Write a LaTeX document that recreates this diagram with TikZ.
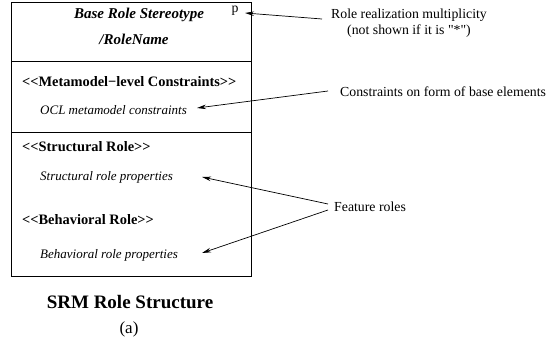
\documentclass[tikz,border=0pt]{standalone}
\usepackage{fontspec}
\setmainfont{Liberation Serif}[Ligatures=NoCommon]
\usetikzlibrary{arrows.meta}
\newcommand{\stereoopen}{{<}\kern0pt{<}}
\newcommand{\stereoclose}{{>}\kern0pt{>}}
\begin{document}
\begin{tikzpicture}[x=1pt,y=-1pt,
  frame/.style={draw,line width=0.8pt},
  title/.style={font=\fontsize{15}{17}\selectfont\bfseries\itshape,inner sep=0pt},
  hdr/.style={font=\fontsize{14.4}{17}\selectfont\bfseries,anchor=west,inner sep=0pt},
  prop/.style={font=\fontsize{13}{15}\selectfont\itshape,anchor=west,inner sep=0pt},
  note/.style={font=\fontsize{13.8}{16}\selectfont,inner sep=0pt},
  pointer/.style={line width=0.7pt,-{Stealth[length=9pt,width=4.5pt]}}]
\useasboundingbox (0,0) rectangle (556,339);
% role box and its compartments
\draw[frame] (11,2) rectangle (251,276);
\draw[frame] (11,61) -- (251,61);
\draw[frame] (11,132) -- (251,132);
% header compartment
\node[title] (stereo) at (139,15) {Base Role Stereotype};
\node[title] (rname) at (134,39) {/RoleName};
\node[font=\fontsize{13.8}{16}\selectfont,inner sep=0pt] (mult) at (235,11) {p};
% constraints compartment
\node[hdr] (mmc) at (22,82) {\stereoopen Metamodel\textminus level Constraints\stereoclose};
\node[prop] (ocl) at (40,110) {OCL metamodel constraints};
% feature compartments
\node[hdr] (sr) at (22,147) {\stereoopen Structural Role\stereoclose};
\node[prop] (srp) at (40,177) {Structural role properties};
\node[hdr] (br) at (22,220) {\stereoopen Behavioral Role\stereoclose};
\node[prop] (brp) at (40,255) {Behavioral role properties};
% caption
\node[font=\fontsize{19}{22}\selectfont\bfseries,inner sep=0pt] (cap) at (130,302) {SRM Role Structure};
\node[font=\fontsize{17}{20}\selectfont,inner sep=0pt] (sub) at (129,329) {(a)};
% annotations
\node[note,align=center] (multnote) at (409,23) {Role realization multiplicity\\(not shown if it is \textquotedbl*\textquotedbl)};
\node[note,anchor=west] (cnote) at (340,92) {Constraints on form of base elements};
\node[note,anchor=west] (fnote) at (334,207) {Feature roles};
\coordinate (mtip) at (245,13);
\coordinate (otip) at (197,108);
\coordinate (stip) at (202,177);
\coordinate (btip) at (202,253);
\draw[pointer] (322,19) -- (mtip);
\draw[pointer] (cnote.west) ++(-12,-1) -- (otip);
\draw[pointer] (fnote.west) ++(-6,-3) -- (stip);
\draw[pointer] (fnote.west) ++(-6,3) -- (btip);
\end{tikzpicture}
\end{document}
